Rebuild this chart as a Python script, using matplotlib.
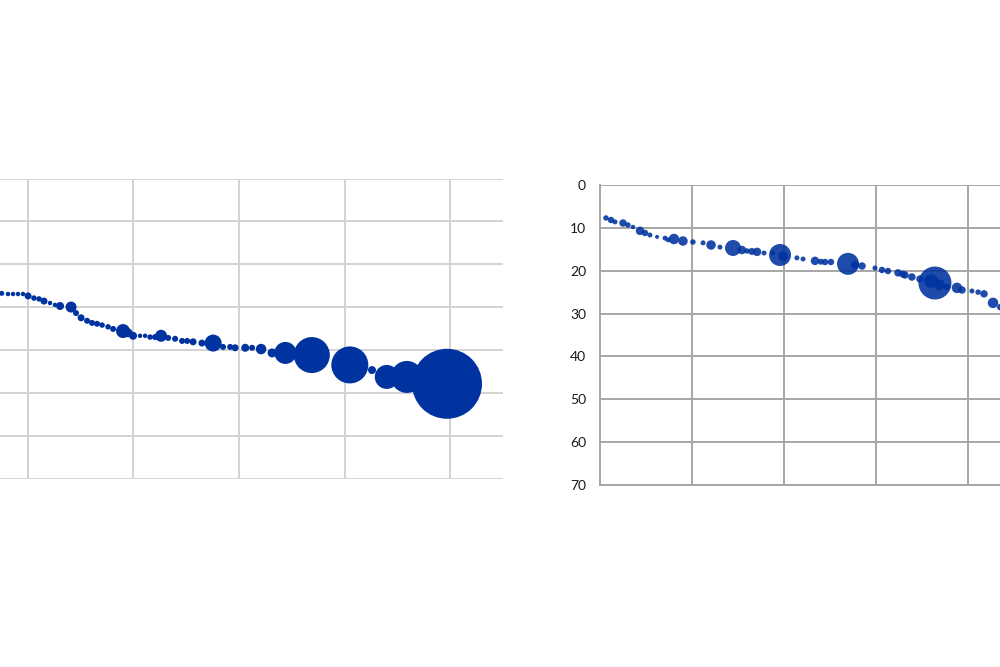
import matplotlib
matplotlib.use("Agg")
import matplotlib.pyplot as plt

# ---- Left panel data (x, y depth, bubble size ~ area) ----
left_x = [7.55, 8.14, 8.62, 9.09, 9.56, 10.04, 10.6, 11.08, 11.55, 12.12, 12.59, 13.07,
          14.11, 14.58, 15.06, 15.63, 16.1, 16.57, 17.05, 17.61, 18.09, 19.03, 19.5, 19.98,
          20.64, 21.12, 21.59, 22.06, 22.63, 23.3, 23.96, 24.62, 25.1, 25.66, 26.5, 27.56,
          28.5, 29.17, 29.64, 30.6, 31.25, 32.1, 33.14, 34.4, 36.9, 40.5, 42.6, 44.0, 45.9, 49.7]
left_y = [26.8, 26.95, 26.95, 26.95, 26.95, 27.4, 27.9, 28.1, 28.6, 29.05, 29.5, 29.75,
          30.0, 31.4, 32.5, 33.2, 33.7, 33.9, 34.2, 34.6, 35.1, 35.6, 36.0, 36.7,
          36.7, 36.7, 37.0, 37.0, 36.7, 37.2, 37.4, 37.9, 37.9, 38.1, 38.4, 38.4,
          39.3, 39.3, 39.5, 39.5, 39.5, 39.8, 40.7, 40.7, 41.2, 43.5, 44.7, 46.3, 46.3, 47.9]
left_size = [25, 20, 20, 20, 20, 49, 30, 30, 49, 20, 20, 64,
             121, 36, 49, 36, 36, 36, 30, 30, 36, 196, 81, 64,
             20, 20, 30, 36, 144, 36, 36, 36, 36, 49, 49, 289,
             36, 36, 49, 64, 36, 110, 81, 484, 1296, 1369, 64, 576, 1024, 4900]

# ---- Right panel data ----
right_x = [0.65, 1.2, 1.63, 2.5, 3.04, 3.59, 4.35, 4.89, 5.43, 6.2, 7.07, 7.4, 8.04, 9.02,
           10.1, 11.2, 12.07, 13.04, 14.46, 15.43, 15.98, 17.07, 17.83, 18.8, 19.57, 21.4,
           22.07, 23.37, 24.46, 25.1, 26.96, 27.72, 28.48, 29.89, 30.65, 31.3, 32.39, 33.15,
           33.9, 34.78, 35.65, 36.41, 37.72, 38.8, 39.35, 40.43, 41.1, 41.74, 42.72, 43.5,
           16.5, 19.9, 36.0, 36.9, 24.0, 32.9]
right_y = [7.7, 8.17, 8.6, 8.87, 9.33, 9.8, 10.7, 11.2, 11.67, 12.1, 12.4, 12.8, 12.6, 13.07,
           13.3, 13.5, 14.0, 14.5, 14.7, 15.17, 15.4, 15.6, 15.87, 15.87, 16.33, 17.0,
           17.27, 17.7, 17.97, 17.97, 18.4, 18.67, 18.9, 19.37, 19.83, 20.07, 20.5, 21.0,
           21.47, 21.93, 21.93, 22.87, 23.8, 24.0, 24.5, 24.73, 25.0, 25.4, 27.5, 28.5,
           15.5, 16.6, 22.4, 23.3, 17.9, 20.8]
right_size = [30, 42, 25, 56, 30, 20, 72, 42, 25, 16, 25, 25, 110, 90,
              30, 25, 90, 25, 256, 72, 30, 72, 25, 25, 484, 25,
              25, 72, 42, 42, 484, 72, 56, 25, 42, 42, 56, 56,
              56, 56, 30, 1089, 42, 110, 56, 25, 30, 56, 110, 42,
              49, 100, 196, 121, 36, 49]

y_ticks = [0, 10, 20, 30, 40, 50, 60, 70]
x_grid = [10, 20, 30, 40, 50]

SCALE = 0.72 ** 2  # px^2 -> pt^2 at 100 dpi
BLUE = "#0033a0"

fig = plt.figure(figsize=(10, 6.67), dpi=100)
W, H = 1000, 667

# Left panel
axL = fig.add_axes([-78 / W, (H - 478.5) / H, 581 / W, 300 / H])
axL.set_xlim(0, 55)
axL.set_ylim(70, 0)
axL.set_xticks(x_grid)
axL.set_yticks(y_ticks)
axL.grid(True, color="#d2d2d2", linewidth=1.4)
axL.set_axisbelow(True)
for s in axL.spines.values():
    s.set_visible(False)
axL.tick_params(length=0, labelleft=False, labelbottom=False)
axL.scatter(left_x, left_y, s=[v * SCALE for v in left_size], color=BLUE,
            edgecolors="none", zorder=3)

# Right panel
axR = fig.add_axes([600 / W, (H - 485) / H, 460 / W, 300 / H])
axR.set_xlim(0, 50)
axR.set_ylim(70, 0)
axR.set_xticks(x_grid)
axR.set_yticks(y_ticks)
axR.grid(True, color="#a6a6a6", linewidth=1.4)
axR.set_axisbelow(True)
for k, s in axR.spines.items():
    if k in ("left", "bottom"):
        s.set_color("#a6a6a6")
        s.set_linewidth(1.4)
    else:
        s.set_visible(False)
axR.tick_params(length=0, labelbottom=False, labelsize=10, labelcolor="#1a1a1a", pad=10)
for lab in axR.get_yticklabels():
    lab.set_family("Lato")
axR.scatter(right_x, right_y, s=[v * SCALE for v in right_size], color=BLUE, alpha=0.88,
            edgecolors="none", zorder=3)

fig.savefig("out.png", dpi=100)
